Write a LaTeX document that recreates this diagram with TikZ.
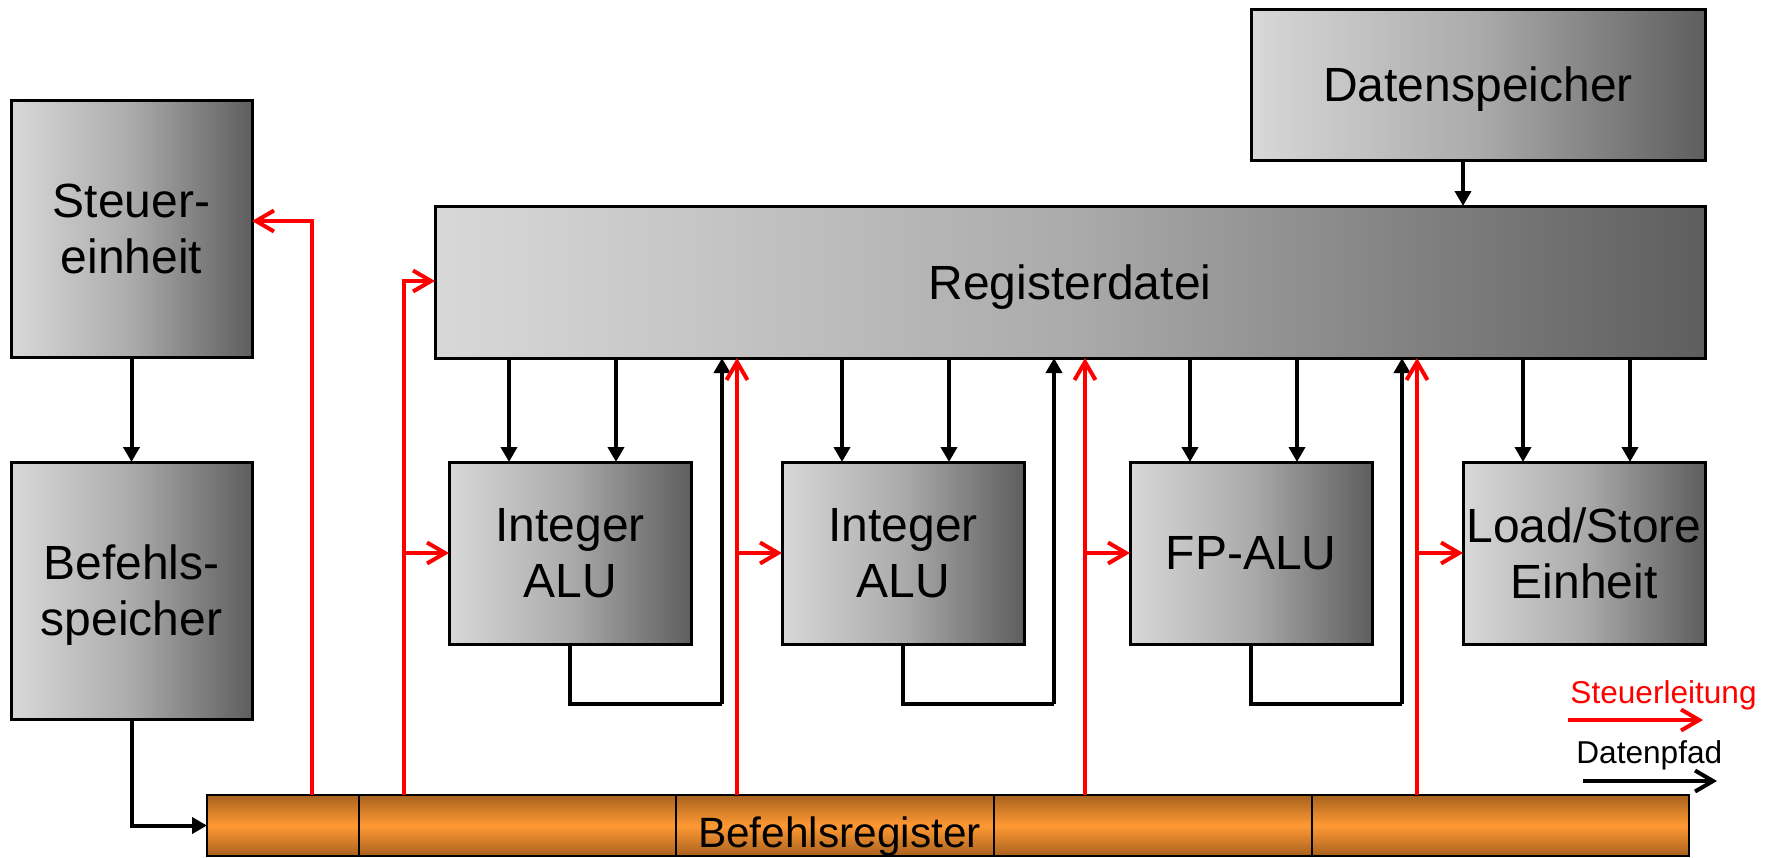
\documentclass[tikz,border=0pt]{standalone}
\usepackage{fontspec}
\setmainfont{Liberation Sans}
\usetikzlibrary{arrows.meta}

\definecolor{boxlight}{HTML}{D8D8D8}
\definecolor{boxmid}{HTML}{ABABAB}
\definecolor{boxdark}{HTML}{5E5E5E}
\definecolor{regedge}{HTML}{A8611F}
\definecolor{regcore}{HTML}{FF9933}
\definecolor{ctrlred}{HTML}{FF0000}

\tikzset{
  unit/.style={draw=black, line width=1.5pt,
    left color=boxlight, right color=boxdark, middle color=boxmid,
    inner sep=0pt, outer sep=0pt, align=center, text depth=0pt,
    font=\fontsize{24pt}{28pt}\selectfont},
  alu/.style={unit, minimum width=121pt, minimum height=91pt},
  tallbox/.style={unit, minimum width=120.5pt, minimum height=128.5pt},
  data/.style={line width=2pt, -{Triangle[length=7.5pt,width=8pt]}},
  wire/.style={line width=2pt},
  ctrl/.style={draw=ctrlred, line width=2pt,
    -{Straight Barb[length=9pt,width=10.5pt]}},
  legdata/.style={line width=2pt, -{Straight Barb[length=9pt,width=10.5pt]}},
  legtext/.style={anchor=base west, inner sep=0pt,
    font=\fontsize{15.8pt}{18pt}\selectfont}
}

\begin{document}
\begin{tikzpicture}[x=0.5pt, y=-0.5pt]
  \useasboundingbox (0,0) rectangle (1775,857);

  % memories, register file and control
  \node[unit, minimum width=227pt, minimum height=75.5pt] (dmem) at (1478,84.5) {Datenspeicher};
  \node[unit, minimum width=635pt, minimum height=76pt] (regfile) at (1070,282) {Registerdatei};
  \node[tallbox] (steuer) at (131.5,228.5) {Steuer-\\einheit};
  \node[tallbox] (bspeicher) at (131.5,590.5) {Befehls-\\speicher};

  % execution units
  \node[alu] (alu1) at (570,553) {Integer\\ALU};
  \node[alu] (alu2) at (903,553) {Integer\\ALU};
  \node[alu] (fpu) at (1251,553) {FP-ALU};
  \node[alu] (lsu) at (1584,553) {Load/Store\\Einheit};

  % instruction register with its fields
  \node[draw=black, line width=1pt, top color=regedge, bottom color=regedge,
        middle color=regcore, minimum width=741pt, minimum height=30.5pt,
        inner sep=0pt, outer sep=0pt] (breg) at (948,825.5) {};
  \foreach \xx in {359,676,994,1312}
    \draw[line width=1pt] (breg.north -| \xx,0) -- (breg.south -| \xx,0);
  \node[anchor=base, inner sep=0pt, font=\fontsize{21.2pt}{24pt}\selectfont]
    (bregtext) at (839.5,847) {Befehlsregister};

  % data paths
  \draw[data] (steuer) -- (bspeicher);
  \draw[data] (bspeicher.south) |- (breg.west);
  \coordinate (dm) at (1463,0);
  \draw[data] (dmem.south -| dm) -- (regfile.north -| dm);

  \foreach \xx/\tgt in {509/alu1,616/alu1,842/alu2,949/alu2,1190/fpu,1297/fpu,1523/lsu,1630/lsu}
    \draw[data] (regfile.south -| \xx,0) -- (\tgt.north -| \xx,0);

  \coordinate (back1) at (722,704);
  \coordinate (back2) at (1054,704);
  \coordinate (back3) at (1402,704);
  \draw[wire] (alu1.south) |- (back1);
  \draw[data] (back1) -- (back1 |- regfile.south);
  \draw[wire] (alu2.south) |- (back2);
  \draw[data] (back2) -- (back2 |- regfile.south);
  \draw[wire] (fpu.south) |- (back3);
  \draw[data] (back3) -- (back3 |- regfile.south);

  % control lines
  \coordinate (c1) at (312,221);
  \coordinate (c2) at (404,281);
  \coordinate (c3) at (737,0);
  \coordinate (c4) at (1085,0);
  \coordinate (c5) at (1417,0);
  \draw[ctrl] (breg.north -| c1) |- (steuer.east |- c1);
  \draw[ctrl] (breg.north -| c2) |- (regfile.west |- c2);
  \draw[ctrl] (alu1.west -| c2) -- (alu1.west);
  \draw[ctrl] (breg.north -| c3) -- (regfile.south -| c3);
  \draw[ctrl] (alu2.west -| c3) -- (alu2.west);
  \draw[ctrl] (breg.north -| c4) -- (regfile.south -| c4);
  \draw[ctrl] (fpu.west -| c4) -- (fpu.west);
  \draw[ctrl] (breg.north -| c5) -- (regfile.south -| c5);
  \draw[ctrl] (lsu.west -| c5) -- (lsu.west);

  % legend
  \node[legtext, text=ctrlred] (legctrl) at (1570,703) {Steuerleitung};
  \coordinate (lc1) at (1568,720);
  \coordinate (lc2) at (1703,720);
  \draw[ctrl] (lc1) -- (lc2);
  \node[legtext] (legdat) at (1576,763) {Datenpfad};
  \coordinate (ld1) at (1583,781);
  \coordinate (ld2) at (1717,781);
  \draw[legdata] (ld1) -- (ld2);
\end{tikzpicture}
\end{document}
